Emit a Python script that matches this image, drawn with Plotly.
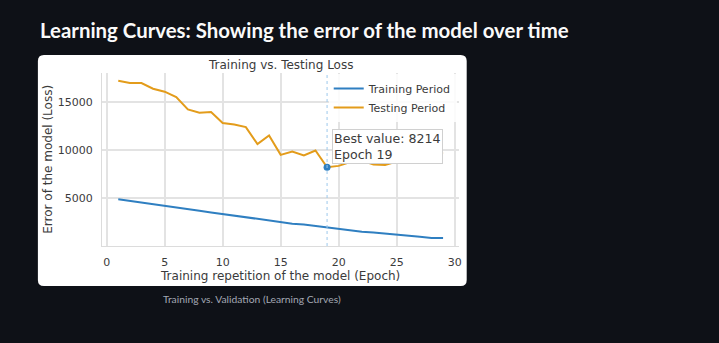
import plotly.graph_objects as go

# Loss per epoch
epochs = list(range(1, 30))
train_loss = [4900, 4720, 4570, 4410, 4210, 4040, 3870, 3710, 3540, 3370,
              3220, 3060, 2870, 2700, 2480, 2380, 2300, 2150, 1990, 1790,
              1660, 1550, 1450, 1360, 1270, 1150, 1020, 900, 880]
test_loss = [17180, 16940, 16940, 16350, 16040, 15490, 14200, 13860, 13930, 12790,
             12650, 12370, 10610, 11500, 9500, 9840, 9430, 9950, 8214, 8360,
             8750, 8900, 8500, 8450, 8800, 9200, 9450, 9600, 9740]

best_epoch = 19
best_value = 8214

W, H = 719, 343
PAGE_BG = "#0e1117"
BLUE = "#2f7fc1"
ORANGE = "#e39c1b"
TEXT = "#3b3b3b"
GRID = "#e3e3e3"
MPL_FONT = "DejaVu Sans"


def fx(px):
    return px / W


def fy(py):
    return 1 - py / H


def rounded_rect(x0, y0, x1, y1, r):
    # rounded rectangle path in paper fractions from pixel corners
    pts = [
        f"M {fx(x0 + r)},{fy(y0)}",
        f"L {fx(x1 - r)},{fy(y0)}",
        f"Q {fx(x1)},{fy(y0)} {fx(x1)},{fy(y0 + r)}",
        f"L {fx(x1)},{fy(y1 - r)}",
        f"Q {fx(x1)},{fy(y1)} {fx(x1 - r)},{fy(y1)}",
        f"L {fx(x0 + r)},{fy(y1)}",
        f"Q {fx(x0)},{fy(y1)} {fx(x0)},{fy(y1 - r)}",
        f"L {fx(x0)},{fy(y0 + r)}",
        f"Q {fx(x0)},{fy(y0)} {fx(x0 + r)},{fy(y0)}",
        "Z",
    ]
    return " ".join(pts)


fig = go.Figure()

fig.add_trace(go.Scatter(
    x=epochs, y=train_loss, mode="lines", name="Training Period",
    line=dict(color=BLUE, width=2),
))
fig.add_trace(go.Scatter(
    x=epochs, y=test_loss, mode="lines", name="Testing Period",
    line=dict(color=ORANGE, width=2),
))
fig.add_trace(go.Scatter(
    x=[best_epoch], y=[best_value], mode="markers", showlegend=False,
    marker=dict(color=BLUE, size=7),
))

# white card behind the chart
fig.add_shape(type="path", path=rounded_rect(38, 55, 468, 286, 6),
              xref="paper", yref="paper", fillcolor="white",
              line=dict(width=0), layer="below")

# marker line at the best epoch
fig.add_shape(type="line", x0=best_epoch, x1=best_epoch, y0=0, y1=1,
              xref="x", yref="y domain",
              line=dict(color="#9cc8ec", width=1, dash="dot"))

fig.add_annotation(
    x=best_epoch, y=best_value, xref="x", yref="y",
    text=f"Best value: {best_value}<br>Epoch {best_epoch}",
    showarrow=False, xanchor="left", yanchor="bottom", align="left",
    xshift=5, yshift=3,
    font=dict(family=MPL_FONT, size=12.6, color=TEXT),
    bgcolor="white", bordercolor="#d0d0d0", borderwidth=1, borderpad=1,
)

# page heading and caption
fig.add_annotation(
    x=fx(38), y=fy(30), xref="paper", yref="paper",
    text="<b>Learning Curves: Showing the error of the model over time</b>",
    showarrow=False, xanchor="left", yanchor="middle",
    font=dict(family="Lato", size=20.4, color="#fafafa"),
)
fig.add_annotation(
    x=fx(253), y=fy(299), xref="paper", yref="paper",
    text="Training vs. Validation (Learning Curves)",
    showarrow=False, xanchor="center", yanchor="middle",
    font=dict(family="Lato", size=10.3, color="#a3a8b4"),
)

# chart title
fig.add_annotation(
    x=fx(281), y=fy(65), xref="paper", yref="paper",
    text="Training vs. Testing Loss",
    showarrow=False, xanchor="center", yanchor="middle",
    font=dict(family=MPL_FONT, size=12, color=TEXT),
)

fig.update_layout(
    width=W, height=H,
    margin=dict(l=0, r=0, t=0, b=0),
    paper_bgcolor=PAGE_BG,
    plot_bgcolor="white",
    font=dict(family=MPL_FONT, color=TEXT),
    legend=dict(
        x=fx(458), y=fy(74), xanchor="right", yanchor="top",
        bgcolor="rgba(255,255,255,0.85)", borderwidth=0,
        font=dict(family=MPL_FONT, size=11, color=TEXT),
        tracegroupgap=0, itemwidth=30,
    ),
    xaxis=dict(
        domain=[fx(102.3), fx(460.6)], range=[-0.4, 30.4],
        tick0=0, dtick=5, showgrid=True, gridcolor=GRID, gridwidth=1.5,
        zeroline=False, showline=True, linecolor="#dcdcdc", linewidth=1,
        ticks="", tickfont=dict(family=MPL_FONT, size=11, color=TEXT),
        ticklabelstandoff=6,
        title=dict(text="Training repetition of the model (Epoch)",
                   font=dict(family=MPL_FONT, size=12, color=TEXT), standoff=1),
    ),
    yaxis=dict(
        domain=[fy(246), fy(72.6)], range=[64, 18016],
        tick0=0, dtick=5000, tickformat="d",
        showgrid=True, gridcolor=GRID, gridwidth=1.5,
        zeroline=False, showline=True, linecolor="#dcdcdc", linewidth=1,
        ticks="", tickfont=dict(family=MPL_FONT, size=11, color=TEXT),
        ticklabelstandoff=6,
        title=dict(text="Error of the model (Loss)",
                   font=dict(family=MPL_FONT, size=12, color=TEXT), standoff=2),
    ),
)

fig.write_html("out.html")
